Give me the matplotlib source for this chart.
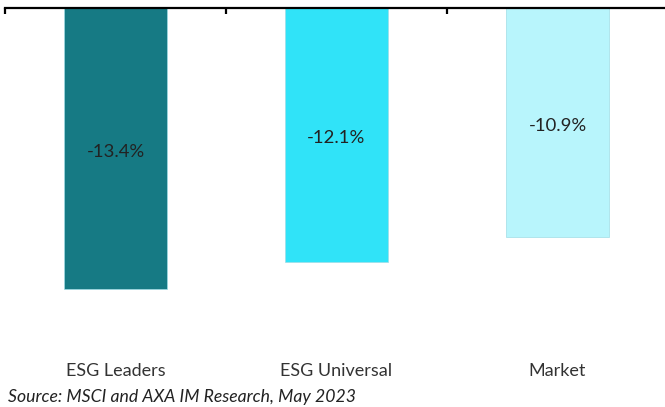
import matplotlib
matplotlib.use("Agg")
import matplotlib.pyplot as plt
import matplotlib.transforms as mtransforms

categories = ["ESG Leaders", "ESG Universal", "Market"]
values = [-13.4, -12.1, -10.9]
colors = ["#167A84", "#30E3F8", "#B8F5FC"]
source = "Source: MSCI and AXA IM Research, May 2023"

plt.rcParams['font.family'] = ['Lato', 'DejaVu Sans']

fig = plt.figure(figsize=(6.65, 4.07), dpi=100)
ax = fig.add_axes([5/665, 1 - 344/407, 663/665, 336/407])

x = list(range(len(categories)))
ax.bar(x, values, width=0.465, color=colors, edgecolor="#9FDDE6", linewidth=0.5, zorder=2)
ax.set_xlim(-0.5, 2.5)
ax.set_ylim(-16, 0)

for xi, v in zip(x, values):
    ax.annotate(f"{v:.1f}%", (xi, v / 2), xytext=(0, -2.2), textcoords="offset points",
                ha="center", va="center", fontsize=13.3, color="#222222")

trans = mtransforms.blended_transform_factory(ax.transData, fig.transFigure)
for xi, c in zip(x, categories):
    ax.text(xi, 1 - 371/407, c, ha="center", va="center", fontsize=13, color="#333333", transform=trans)

fig.text(8/665, 1 - 397/407, source, ha="left", va="center", fontsize=12.7, style="italic", color="#222222")

for s in ["left", "right", "bottom"]:
    ax.spines[s].set_visible(False)
ax.spines["top"].set_linewidth(1.6)
ax.spines["top"].set_color("black")
ax.set_yticks([])
ax.set_xticks([])
ax.set_xticks([-0.5, 0.5, 1.5, 2.5], minor=True)
ax.tick_params(axis="x", which="minor", top=True, bottom=False, direction="in", length=4, width=1.6, labeltop=False, labelbottom=False)

fig.savefig("out.png", dpi=100)
